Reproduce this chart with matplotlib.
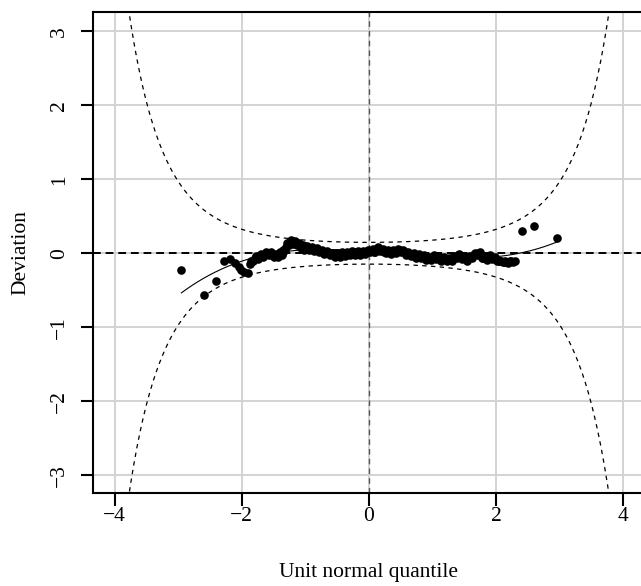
import numpy as np
import matplotlib
matplotlib.use('Agg')
import matplotlib.pyplot as plt
from math import erf

## worm plot data (unit normal quantile, deviation)
qx = [-2.95, -2.59, -2.40, -2.28, -2.19, -2.11, -2.05, -2.01, -1.97, -1.91,
      -1.87, -1.84, -1.80, -1.76, -1.72, -1.68, -1.64, -1.60, -1.56, -1.52,
      -1.48, -1.45, -1.42, -1.39, -1.36, -1.33, -1.30, -1.27, -1.24, -1.21,
      -1.18, -1.15, -1.12, -1.09, -1.06, -1.03, -1.00, -0.96, -0.92, -0.88,
      -0.84, -0.80, -0.76, -0.72, -0.68, -0.64, -0.60, -0.56, -0.52, -0.48,
      -0.44, -0.40, -0.36, -0.32, -0.28, -0.24, -0.20, -0.16, -0.12, -0.08,
      -0.04, 0.00, 0.04, 0.08, 0.12, 0.16, 0.20, 0.24, 0.28, 0.32,
      0.36, 0.40, 0.44, 0.48, 0.52, 0.56, 0.60, 0.64, 0.68, 0.72,
      0.76, 0.80, 0.84, 0.88, 0.92, 0.96, 1.00, 1.04, 1.08, 1.12,
      1.16, 1.20, 1.24, 1.28, 1.32, 1.36, 1.40, 1.44, 1.48, 1.52,
      1.56, 1.60, 1.64, 1.68, 1.72, 1.76, 1.80, 1.84, 1.88, 1.92,
      1.96, 2.00, 2.04, 2.08, 2.12, 2.16, 2.20, 2.24, 2.29,
      2.40, 2.59, 2.95]
dev = [-0.23, -0.57, -0.38, -0.10, -0.08, -0.13, -0.18, -0.22, -0.25, -0.27,
       -0.15, -0.10, -0.07, -0.06, -0.04, -0.04, -0.02, 0.00, -0.01, -0.02,
       -0.03, -0.04, -0.02, 0.00, 0.01, 0.04, 0.09, 0.13, 0.15, 0.16,
       0.15, 0.14, 0.13, 0.10, 0.08, 0.08, 0.07, 0.07, 0.06, 0.05,
       0.05, 0.04, 0.03, 0.02, 0.01, 0.00, -0.01, -0.03, -0.02, -0.03,
       -0.02, -0.01, -0.02, 0.00, 0.00, 0.01, 0.00, 0.01, 0.00, 0.01,
       0.02, 0.03, 0.04, 0.02, 0.05, 0.06, 0.04, 0.02, 0.03, 0.02,
       0.01, 0.02, 0.03, 0.04, 0.03, 0.01, 0.00, -0.01, -0.02, -0.03,
       -0.04, -0.04, -0.05, -0.06, -0.07, -0.07, -0.06, -0.05, -0.06, -0.07,
       -0.08, -0.08, -0.08, -0.09, -0.07, -0.05, -0.03, -0.04, -0.06, -0.08,
       -0.07, -0.05, -0.03, -0.01, 0.00, -0.03, -0.06, -0.07, -0.06, -0.05,
       -0.06, -0.08, -0.10, -0.11, -0.12, -0.12, -0.12, -0.11, -0.11,
       0.30, 0.37, 0.20]
# in-between points of the dense worm
qx2 = [-1.855, -1.82, -1.78, -1.74, -1.70, -1.66, -1.62, -1.58, -1.54, -1.50,
       -1.465, -1.435, -1.405, -1.375, -1.345, -1.315, -1.285, -1.255, -1.225, -1.195,
       -1.165, -1.135, -1.105, -1.075, -1.045, -1.015, -0.98, -0.94, -0.90, -0.86,
       -0.82, -0.78, -0.74, -0.70, -0.66, -0.62, -0.58, -0.54, -0.50, -0.46,
       -0.42, -0.38, -0.34, -0.30, -0.26, -0.22, -0.18, -0.14, -0.10, -0.06,
       -0.02, 0.02, 0.06, 0.10, 0.14, 0.18, 0.22, 0.26, 0.30, 0.34,
       0.38, 0.42, 0.46, 0.50, 0.54, 0.58, 0.62, 0.66, 0.70, 0.74,
       0.78, 0.82, 0.86, 0.90, 0.94, 0.98, 1.02, 1.06, 1.10, 1.14,
       1.18, 1.22, 1.26, 1.30, 1.34, 1.38, 1.42, 1.46, 1.50, 1.54,
       1.58, 1.62, 1.66, 1.70, 1.74, 1.78, 1.82, 1.86, 1.90, 1.94,
       1.98, 2.02, 2.06, 2.10, 2.14, 2.18, 2.22, 2.265]
dev2 = [-0.10, -0.11, -0.04, -0.075, -0.015, -0.055, 0.015, -0.03, 0.01, -0.05,
        -0.01, -0.055, 0.015, -0.02, 0.05, 0.04, 0.135, 0.115, 0.18, 0.13,
        0.17, 0.11, 0.14, 0.065, 0.105, 0.05, 0.095, 0.04, 0.08, 0.025,
        0.07, 0.01, 0.05, -0.01, 0.03, -0.03, 0.005, -0.05, 0.00, -0.05,
        0.01, -0.04, 0.015, -0.025, 0.03, -0.02, 0.03, -0.02, 0.03, -0.01,
        0.05, 0.01, 0.055, 0.01, 0.08, 0.025, 0.055, 0.00, 0.05, -0.01,
        0.04, 0.00, 0.06, 0.01, 0.045, -0.02, 0.02, -0.04, 0.00, -0.06,
        -0.015, -0.07, -0.03, -0.09, -0.045, -0.09, -0.03, -0.08, -0.04, -0.10,
        -0.055, -0.105, -0.06, -0.105, -0.035, -0.065, -0.01, -0.075, -0.045, -0.10,
        -0.035, -0.065, 0.005, -0.03, 0.01, -0.07, -0.04, -0.09, -0.03, -0.08,
        -0.045, -0.10, -0.10, -0.125, -0.11, -0.13, -0.10, -0.12]
n_obs = 280          # sample size behind the confidence bands
level = 1.959964     # 95% band

plt.rcParams['font.family'] = ['Liberation Serif', 'DejaVu Serif']
fig = plt.figure(figsize=(6.41, 5.86), dpi=100)
ax = fig.add_axes([93/641, 1-493/586, (645-93)/641, (493-12)/586])
ax.set_xlim(-4.34, 4.34)
ax.set_ylim(-3.24, 3.26)

# grid
for g in [-4, -2, 0, 2, 4]:
    ax.axvline(g, color='#d3d3d3', lw=1.4, zorder=0)
for g in range(-3, 4):
    ax.axhline(g, color='#d3d3d3', lw=1.4, zorder=0)

# confidence bands
z = np.arange(-4, 4.001, 0.05)
p = np.array([0.5*(1+erf(v/np.sqrt(2))) for v in z])
se = np.sqrt(p*(1-p)/n_obs)/(np.exp(-z**2/2)/np.sqrt(2*np.pi))
ax.plot(z, level*se, 'k--', lw=0.9, dashes=(3.5, 3.5))
ax.plot(z, -level*se, 'k--', lw=0.9, dashes=(3.5, 3.5))

ax.axhline(0, color='black', lw=1.4, ls='--', dashes=(4, 2.5), zorder=1)
ax.axvline(0, color='#555555', lw=1.0, ls='--', dashes=(4, 3), zorder=1)

allx = qx + qx2
ally = dev + dev2
ax.plot(allx, ally, 'o', color='black', ms=6.2, mec='none', zorder=3)

# cubic fit
coef = np.polyfit(allx, ally, 3)
xs = np.linspace(min(allx), max(allx), 200)
ax.plot(xs, np.polyval(coef, xs), color='black', lw=0.8, zorder=2)

for s in ax.spines.values():
    s.set_linewidth(1.5)
ax.set_xticks([-4, -2, 0, 2, 4])
ax.set_yticks(range(-3, 4))
ax.set_xticklabels(['\u22124', '\u22122', '0', '2', '4'])
ax.set_yticklabels(['\u22123', '\u22122', '\u22121', '0', '1', '2', '3'], rotation=90, va='center')
ax.tick_params(length=9, width=1.5, labelsize=15.5)
ax.tick_params(axis='x', pad=1)
ax.tick_params(axis='y', pad=8.5)
ax.set_xlabel('Unit normal quantile', fontsize=15.5, labelpad=27)
ax.set_ylabel('Deviation', fontsize=15.5, labelpad=14)

fig.savefig('out.png', dpi=100)
